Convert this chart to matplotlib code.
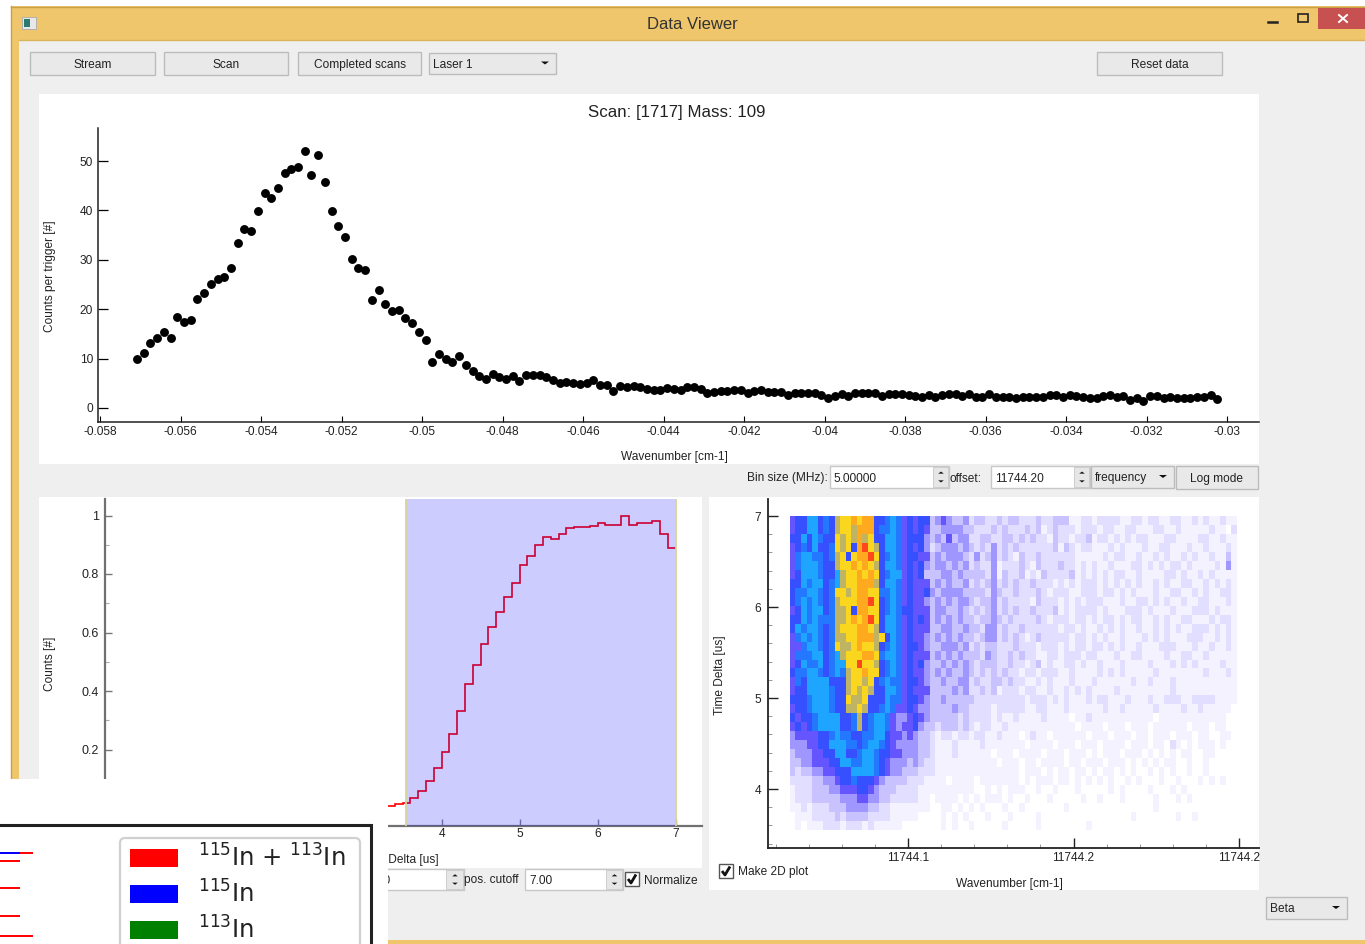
import numpy as np
import matplotlib
matplotlib.use("Agg")
import matplotlib.pyplot as plt
from matplotlib.colors import ListedColormap
from matplotlib.patches import Rectangle, FancyBboxPatch, Polygon
from matplotlib.ticker import MultipleLocator

W, H = 1365, 944
plt.rcParams['font.family'] = ['Liberation Sans', 'DejaVu Sans']

# ---- top scan plot ----
scan_start = -0.05708
scan_step = 0.0001667
scan_counts = [
 10.0,11.2,13.2,14.2,15.3,14.2,18.5,17.5,17.8,22.1,23.2,25.1,26.2,26.5,28.3,33.5,36.2,35.8,39.9,43.5,
 42.6,44.6,47.6,48.3,48.7,52.1,47.2,51.2,45.8,39.9,36.9,34.6,30.1,28.3,28.0,21.9,23.9,21.0,19.6,19.8,
 18.2,17.3,15.3,13.7,9.4,11.0,9.9,9.4,10.5,8.7,7.4,6.4,5.9,6.9,6.2,5.9,6.4,5.5,6.7,6.7,
 6.6,6.3,5.7,5.1,5.3,5.1,4.8,5.1,5.6,4.6,4.7,3.5,4.5,4.2,4.5,4.2,3.9,3.6,3.6,4.0,
 3.9,3.6,4.2,4.3,3.9,3.0,3.2,3.4,3.4,3.7,3.6,3.1,3.4,3.6,3.2,3.2,3.2,2.6,3.0,3.0,
 3.0,3.0,2.6,2.1,2.5,2.8,2.4,3.0,3.0,3.0,3.0,2.4,2.8,2.8,
 2.8,2.6,2.5,2.2,2.6,2.2,2.6,2.9,2.9,2.4,2.9,2.2,2.2,2.9,2.3,2.3,2.2,2.0,2.3,2.3,
 2.2,2.2,2.6,2.6,2.3,2.6,2.4,2.3,2.0,2.0,2.4,2.7,2.3,2.4,1.6,2.1,1.5,2.5,2.5,2.0,
 2.3,2.0,2.0,2.0,2.3,2.2,2.6,1.8]
scan_xticks = [-0.058,-0.056,-0.054,-0.052,-0.05,-0.048,-0.046,-0.044,-0.042,-0.04,-0.038,-0.036,-0.034,-0.032,-0.03]
scan_xlabels = ['-0.058','-0.056','-0.054','-0.052','-0.05','-0.048','-0.046','-0.044','-0.042','-0.04','-0.038','-0.036','-0.034','-0.032','-0.03']
scan_yticks = [0,10,20,30,40,50]

# ---- lower-left time histogram ----
tof_edges = [3.3,3.4,3.5,3.6,3.7,3.8,3.9,4.0,4.1,4.2,4.3,4.4,4.5,4.6,4.7,4.8,4.9,5.0,5.1,5.2,5.3,5.4,
             5.5,5.6,5.7,5.8,5.9,6.0,6.1,6.2,6.3,6.4,6.5,6.6,6.7,6.8,6.9,7.0]
tof_values = [0.008,0.013,0.016,0.035,0.059,0.092,0.137,0.192,0.254,0.330,0.423,0.488,0.562,0.619,0.669,
              0.723,0.769,0.831,0.862,0.899,0.928,0.919,0.938,0.957,0.961,0.962,0.964,0.975,0.969,0.969,
              1.0,0.969,0.975,0.975,0.981,0.938,0.888]

# ---- lower-right 2D map: colour level of every cell, one row per time bin, top row first ----
heat_colours = ['#ffffff','#f4f2ff','#e2deff','#c8c3ff','#a096ff','#6455ff','#3750ff','#2378ff','#1ea5ff',
                '#bfb464','#fad71e','#ffaa1e','#ff461e']
heat_core = [
 "566886769aababb66787565663","566886769aa9bbb67787565653","66868766a9a9b9a66887566643","56768667a9a6bca96887565642",
 "578877679a6abbca6787566553","578887669aababa96887565643","5688876689aababa678856563"+"3","6687886789aabbb96887565553",
 "67788767aa9abbaa7787565564","678787679aaabbca6787565543","5687886799a6bbaa6787665553","6687877799ababca6887565653",
 "687887679aaabba96887565553","5787876799aabbb9a687565543","55788767a99abaa96787566543","5777886789aaabba7887565553",
 "5687786788aacaa96787565643","67788767879aabaa6787565543","57688886669aa9a67877566543","56688887669a9a966887565553",
 "6667888766a99a666877566543","566788876699a9667875565443","656678888667967887544565"+"43","565678888667967887545564"+"33",
 "4555566787766778865545433"+"2","444556688877678876544443"+"32","344455668866788766554443"+"32","33445556688778876544434322",
 "32334455666888876544333222","22223344566766654333322211","12223334455566543332222111","12223333344455443322222110",
 "11212223334444332211111110","01112222323333222211111000","01011122212221211111000000"]
heat_tail = [
 "454334233223233222322333112212222112212211221121211211","344443322232322232312322212221221122111221121111121102",
 "435344223322332323221322122312212121221112211112211211","344434323242323222222313212211121211121122111211211121",
 "434443242342321322322222211111212211211212112121121131","443434232241222321322232212121121112212121221211112141",
 "344343333241322312132222312121212211211112212112121111","434334232342323223222121212221212121211212112211212121",
 "344443333243223222321222112221221212111211221121211221","434344323342322221322212121222111211221212112112211121",
 "443343232342323223222312122221211122212111211122212111","434343323343232222321222122121221212211212112211121221",
 "344334332442322322222212212112121211211212121122212121","434343323442323212322222122121211211121212111222112121",
 "344434232332223222122212122122121211211122211121121121","434343332432232322112212221221112112211112112211211111",
 "343434323332232212312112212112111211112111212121111211","434334323232322122122211211112121211111211111111211121",
 "343344232233232211212111211121111112112111211111111111","333434223231222122112112121211112111111111211111111111",
 "343333322222222212221212111212211121112112221122221111","333433222212222211221112111111211211111211112112111110",
 "333323222212112111121111011211111111111011111111111100","233323212211211111111111101111011101110111111011101100",
 "122122122112111012110111111011101110110111011101100110","111211112111111101111011101110111101110110210101110100",
 "111211111101110111101110111010111011101010101100110000","111111111110111011011110110111011101010101100100100000",
 "111111111111111011101011011010110101001010100100100000","110111101111111010111011010101010010100010010001010100",
 "111111100101011100100100010000010100001000101000000000","111101010111010010001000001001000100000100010100000000",
 "011010101000100100000001000000000000000100000000000000","010101000100010000100000000000000001000000010010000000",
 "010100100000100000100000000100000000000000000000000000"]
heat_cols = 80
heat_rows = [(a + b).ljust(heat_cols, '0')[:heat_cols] for a, b in zip(heat_core, heat_tail)]
heat_x0, heat_x1 = 11744.0643, 11744.1994
heat_y0, heat_y1 = 3.55, 7.0

# ---- legend ----
legend_labels = [r'$\mathregular{^{115}}$In + $\mathregular{^{113}}$In', r'$\mathregular{^{115}}$In', r'$\mathregular{^{113}}$In']
legend_colours = ['#ff0000', '#0000ff', '#008000']

GUI = '#efefef'
ORANGE = '#efc66b'
TXT = '#222222'

fig = plt.figure(figsize=(W/100, H/100), dpi=100, facecolor='white')

def px_axes(l, t, r, b, z):
    return fig.add_axes([l/W, 1-b/H, (r-l)/W, (b-t)/H], zorder=z)

ui = px_axes(0, 0, W, H, 0)
ui.set_xlim(0, W); ui.set_ylim(H, 0); ui.axis('off')

def box(a, x0, y0, x1, y1, fc, ec='none', lw=0, z=1):
    a.add_patch(Rectangle((x0, y0), x1-x0, y1-y0, facecolor=fc, edgecolor=ec, linewidth=lw, zorder=z))

def label(a, x, y, s, size=8.6, ha='left', rot=0, color=TXT, z=5):
    a.text(x, y+1.5 if rot == 0 else y, s, fontsize=size, ha=ha, va='center', rotation=rot, color=color, zorder=z, rotation_mode='anchor')

def tri(a, cx, cy, s=4, up=False):
    d = -s*0.75 if up else s*0.75
    a.add_patch(Polygon([(cx-s, cy-d/2), (cx+s, cy-d/2), (cx, cy+d/2)], facecolor='#111111', edgecolor='none', zorder=6))

def button(x0, y0, x1, y1, s):
    box(ui, x0, y0, x1, y1, '#e9e9e9', '#bcbcbc', 1.0, 3)
    label(ui, (x0+x1)/2, (y0+y1)/2, s, ha='center')

def combo(x0, y0, x1, y1, s):
    box(ui, x0, y0, x1, y1, '#e9e9e9', '#bcbcbc', 1.0, 3)
    label(ui, x0+4, (y0+y1)/2, s)
    tri(ui, x1-11, (y0+y1)/2-0.5)

def spin(x0, y0, x1, y1, s, arrow_w=16, text_x=None):
    box(ui, x0, y0, x1, y1, 'white', '#c8c8c8', 1.0, 3)
    box(ui, x1-arrow_w, y0+1, x1-1, y1-1, '#e6e6e6', '#c8c8c8', 0.6, 4)
    tri(ui, x1-arrow_w/2, y0+(y1-y0)*0.3, 2.8, up=True)
    tri(ui, x1-arrow_w/2, y0+(y1-y0)*0.7, 2.8)
    label(ui, (x0+4) if text_x is None else text_x, (y0+y1)/2, s)

def check(a, x0, y0, s):
    box(a, x0, y0, x0+14, y0+14, 'white', '#555555', 1.0, 3)
    a.plot([x0+3, x0+6, x0+11], [y0+7, y0+11, y0+2.5], color='#111111', lw=2, zorder=4, solid_capstyle='butt')
    label(a, x0+19, y0+7, s)

# window chrome
box(ui, 11, 6, W, 944, ORANGE, z=0)
ui.plot([11, W], [6.5, 6.5], color='#c9a04a', lw=1, zorder=1)
ui.plot([11, 11], [6, 944], color='#c9a04a', lw=1, zorder=1)
box(ui, 19, 40, W, 940, GUI, z=1)
ui.plot([19, W], [40, 40], color='#d9b45c', lw=1, zorder=2)
box(ui, 22, 17, 36, 29, '#e8e8e8', '#aaaaaa', 0.6, 3)
box(ui, 24, 19, 30, 27, '#2a7a70', z=4)
label(ui, 692, 23, 'Data Viewer', size=12, ha='center', color='#333333')
box(ui, 1318, 8, W, 29, '#c75050', z=3)
ui.plot([1339, 1347], [15, 22], color='white', lw=1.4, zorder=4)
ui.plot([1339, 1347], [22, 15], color='white', lw=1.4, zorder=4)
ui.plot([1268, 1277], [22, 22], color='#222222', lw=1.8, zorder=4)
box(ui, 1298, 14, 1308, 22, 'none', '#222222', 1.2, 4)

# toolbar
button(30, 52, 155, 75, 'Stream')
button(164, 52, 288, 75, 'Scan')
button(298, 52, 421, 75, 'Completed scans')
combo(429, 53, 556, 74, 'Laser 1')
button(1097, 52, 1222, 75, 'Reset data')

# panels
box(ui, 39, 94, 1259, 464, 'white', z=1)
box(ui, 39, 497, 702, 868, 'white', z=1)
box(ui, 709, 497, 1259, 890, 'white', z=1)
label(ui, 677, 111, 'Scan: [1717] Mass: 109', size=12.2, ha='center', color='#222222')
label(ui, 674, 455.5, 'Wavenumber [cm-1]', ha='center')
label(ui, 50, 276, 'Counts per trigger [#]', ha='center', rot=90)
label(ui, 50, 664, 'Counts [#]', ha='center', rot=90)
label(ui, 398.5, 859, 'Time Delta [us]', ha='center')
label(ui, 720, 675, 'Time Delta [us]', ha='center', rot=90)
label(ui, 1009, 882, 'Wavenumber [cm-1]', ha='center')

# controls
label(ui, 747, 477, 'Bin size (MHz):')
spin(830, 466, 949, 488, '5.00000')
label(ui, 950, 477, 'offset:')
spin(991, 466, 1090, 488, '11744.20')
combo(1091, 466, 1174, 488, 'frequency')
button(1176, 466, 1258, 489, 'Log mode')
spin(330, 869, 464, 890, '3.50', arrow_w=18, text_x=368)
label(ui, 464, 879, 'pos. cutoff')
spin(525, 869, 623, 890, '7.00', arrow_w=17)
check(ui, 625, 872, 'Normalize')
check(ui, 719, 864, 'Make 2D plot')
combo(1266, 897, 1347, 919, 'Beta')

# scan plot
ax = px_axes(98, 128, 1259, 422, 1)
ax.patch.set_alpha(0)
scan_x = scan_start + scan_step*np.arange(len(scan_counts))
ax.plot(scan_x, scan_counts, 'o', color='black', ms=6.4, mew=0, clip_on=False)
ax.set_xlim(-0.058-2/40250, -0.058+1159/40250)
ax.set_ylim(-14/4.94, 280/4.94)
ax.set_xticks(scan_xticks); ax.set_xticklabels(scan_xlabels)
ax.set_yticks(scan_yticks)
ax.tick_params(axis='x', direction='in', length=4, width=0.8, pad=3, labelsize=8.6, labelcolor=TXT)
ax.tick_params(axis='y', direction='in', length=7, width=0.9, pad=3.5, labelsize=8.6, labelcolor=TXT)
for s in ('top', 'right'):
    ax.spines[s].set_visible(False)
for s in ('left', 'bottom'):
    ax.spines[s].set_linewidth(1.1); ax.spines[s].set_color('#222222')

# time histogram
a2 = px_axes(105, 499, 702, 826, 1)
a2.patch.set_alpha(0)
a2.stairs(tof_values, tof_edges, color='red', lw=1.2, baseline=None, zorder=2)
a2.axvspan(3.54, 7.0, facecolor='blue', alpha=0.2, edgecolor='none', zorder=3)
a2.axvline(3.54, color='#d8d49a', lw=1.3, zorder=4)
a2.axvline(7.0, color='#d8d49a', lw=1.3, zorder=4)
a2.set_xlim(4-(441.7-105)/78, 4+(702-441.7)/78)
a2.set_ylim((808-826)/292.5, (808-499)/292.5)
a2.set_xticks([4, 5, 6, 7]); a2.set_yticks([0.2, 0.4, 0.6, 0.8, 1.0])
a2.set_yticklabels(['0.2', '0.4', '0.6', '0.8', '1'])
a2.yaxis.set_minor_locator(MultipleLocator(0.1))
a2.tick_params(axis='x', direction='in', length=5, width=1, pad=1.5, labelsize=8.6, color='#888899', labelcolor=TXT)
a2.tick_params(axis='y', direction='in', length=5, width=1, pad=4.5, labelsize=9, color='#777777', labelcolor=TXT)
a2.tick_params(axis='y', which='minor', direction='in', length=3, width=0.8, color='#aaaaaa')
for s in ('top', 'right'):
    a2.spines[s].set_visible(False)
for s in ('left', 'bottom'):
    a2.spines[s].set_linewidth(1.6); a2.spines[s].set_color('#707070')

# 2D map
a3 = px_axes(768, 499, 1259, 848, 1)
a3.patch.set_alpha(0)
hx = np.linspace(heat_x0, heat_x1, heat_cols+1)
hy = np.linspace(heat_y1, heat_y0, len(heat_rows)+1)
levels = np.array([[int(c, 16) for c in r] for r in heat_rows])
a3.pcolormesh(hx, hy, levels, cmap=ListedColormap(heat_colours), vmin=-0.5, vmax=12.5, shading='flat', linewidth=0, rasterized=True)
x_per_px = 0.05/165.5
a3.set_xlim(11744.1+(768-908)*x_per_px, 11744.1+(1259-908)*x_per_px)
a3.set_ylim(7-(848-516)/91, 7+(516-499)/91)
a3.set_xticks([11744.1, 11744.15, 11744.2]); a3.set_xticklabels(['11744.1', '11744.2', '11744.2'])
a3.set_yticks([4, 5, 6, 7])
a3.xaxis.set_minor_locator(MultipleLocator(0.01)); a3.yaxis.set_minor_locator(MultipleLocator(0.2))
a3.tick_params(axis='both', direction='in', length=7, width=1, labelsize=8.6, color='#222222', labelcolor=TXT)
a3.tick_params(axis='x', pad=3)
a3.tick_params(axis='y', pad=5)
a3.tick_params(axis='both', which='minor', direction='in', length=3, width=0.7, color='#999999')
for s in ('top', 'right'):
    a3.spines[s].set_visible(False)
for s in ('left', 'bottom'):
    a3.spines[s].set_linewidth(1.3); a3.spines[s].set_color('#222222')

# pasted legend picture
ov = px_axes(0, 0, W, H, 3)
ov.set_xlim(0, W); ov.set_ylim(H, 0); ov.axis('off'); ov.patch.set_alpha(0)
box(ov, 0, 779, 388, 944, 'white', z=1)
ov.plot([0, 371, 371], [825, 825, 944], color='#222222', lw=2.2, zorder=2, solid_joinstyle='miter')
ov.add_patch(FancyBboxPatch((120, 838), 240, 120, boxstyle='round,pad=0,rounding_size=5', facecolor='white', edgecolor='#d0d0d0', linewidth=1.6, zorder=3))
for i, (lab, col) in enumerate(zip(legend_labels, legend_colours)):
    y = 849 + 36*i
    box(ov, 130, y, 178, y+18, col, z=4)
    ov.text(198, y+9, lab, fontsize=17.5, family='DejaVu Sans', color='#222222', va='center', zorder=5)
for y, x1, c in [(853, 33, 'red'), (853, 20, 'blue'), (861, 20, 'red'), (888, 20, 'red'), (916, 20, 'red'), (936, 33, 'red')]:
    ov.plot([0, x1], [y, y], color=c, lw=1.4, zorder=4, solid_capstyle='butt')

fig.savefig('out.png', dpi=100, facecolor='white')
